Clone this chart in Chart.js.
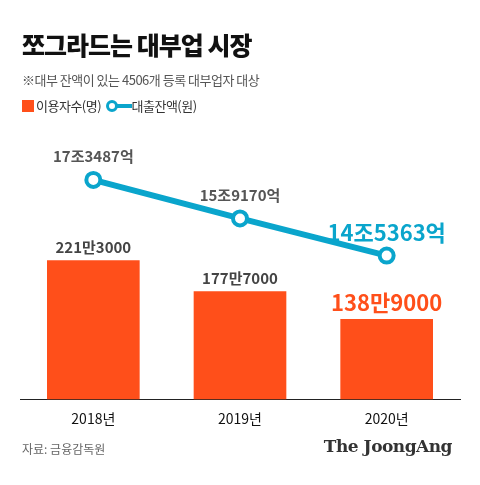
<!DOCTYPE html>
<html><head><meta charset="utf-8">
<script src="https://cdn.jsdelivr.net/npm/chart.js@4"></script>
<style>
body{margin:0;background:#fff;font-family:"Noto Sans CJK KR","Noto Sans",sans-serif;}
#wrap{position:relative;width:480px;height:485px;}
canvas{position:absolute;left:0;top:0;}
.t{position:absolute;white-space:nowrap;}
</style></head><body>
<div id="wrap">
<canvas id="c" width="480" height="485"></canvas>
<div class="t" style="left:22px;top:26px;font-size:25px;font-weight:900;letter-spacing:-1px;color:#111">쪼그라드는 대부업 시장</div>
<div class="t" style="left:22px;top:70px;font-size:13px;color:#555;letter-spacing:-0.5px">※대부 잔액이 있는 4506개 등록 대부업자 대상</div>
<div class="t" style="left:22px;top:96px;font-size:13px;color:#333;letter-spacing:-0.5px"><span style="display:inline-block;width:12px;height:12px;background:#ff4f1a;vertical-align:-1px;margin-right:2px"></span>이용자수(명)
<span style="display:inline-block;width:22px;height:4px;background:#0aa5cc;vertical-align:3px;margin-left:6px;position:relative"><span style="position:absolute;left:-4px;top:-4px;width:6px;height:6px;border:3px solid #0aa5cc;border-radius:50%;background:#fff"></span></span>대출잔액(원)</div>
<div class="t" style="left:22px;top:440px;font-size:12px;color:#666">자료: 금융감독원</div>
<div class="t" style="right:28px;top:436px;font-size:17px;font-weight:bold;font-family:'DejaVu Serif','Liberation Serif',serif;color:#333;letter-spacing:-0.5px">The JoongAng</div>
</div>
<script>
const years = ['2018년', '2019년', '2020년'];
const users = [221.3, 177.7, 138.9];
const userLabels = ['221만3000', '177만7000', '138만9000'];
const loans = [17.3487, 15.9170, 14.5363];
const loanLabels = ['17조3487억', '15조9170억', '14조5363억'];

const labelPlugin = {
  id: 'labels',
  afterDatasetsDraw(chart) {
    const ctx = chart.ctx;
    ctx.save();
    ctx.textAlign = 'center';
    ctx.textBaseline = 'bottom';
    chart.getDatasetMeta(0).data.forEach((b, i) => {
      const last = i === 2;
      ctx.font = (last ? 'bold 22px' : 'bold 15px') + ' "Noto Sans CJK KR"';
      ctx.fillStyle = last ? '#ff4f1a' : '#444';
      ctx.fillText(userLabels[i], b.x, b.y - 6);
    });
    chart.getDatasetMeta(1).data.forEach((p, i) => {
      const last = i === 2;
      ctx.font = (last ? 'bold 22px' : 'bold 15px') + ' "Noto Sans CJK KR"';
      ctx.fillStyle = last ? '#0aa5cc' : '#555';
      ctx.fillText(loanLabels[i], p.x, p.y - (last ? 12 : 16));
    });
    ctx.restore();
  }
};

new Chart(document.getElementById('c'), {
  data: {
    labels: years,
    datasets: [
      {type: 'bar', data: users, backgroundColor: '#ff4f1a', yAxisID: 'yb', barThickness: 92, order: 2},
      {type: 'line', data: loans, borderColor: '#0aa5cc', borderWidth: 6, pointRadius: 7, pointBorderWidth: 4,
       pointBackgroundColor: '#fff', pointBorderColor: '#0aa5cc', yAxisID: 'yl', order: 1}
    ]
  },
  options: {
    responsive: false, animation: false,
    layout: {padding: {left: 20, right: 20, top: 150, bottom: 55}},
    plugins: {legend: {display: false}, tooltip: {enabled: false}},
    scales: {
      x: {grid: {display: false}, border: {color: '#222', width: 1},
          ticks: {color: '#111', font: {size: 14, family: 'Noto Sans CJK KR'}}},
      yb: {display: false, min: 27, max: 376},
      yl: {display: false, min: 9.2, max: 18.46}
    }
  },
  plugins: [labelPlugin]
});
</script>
</body></html>
